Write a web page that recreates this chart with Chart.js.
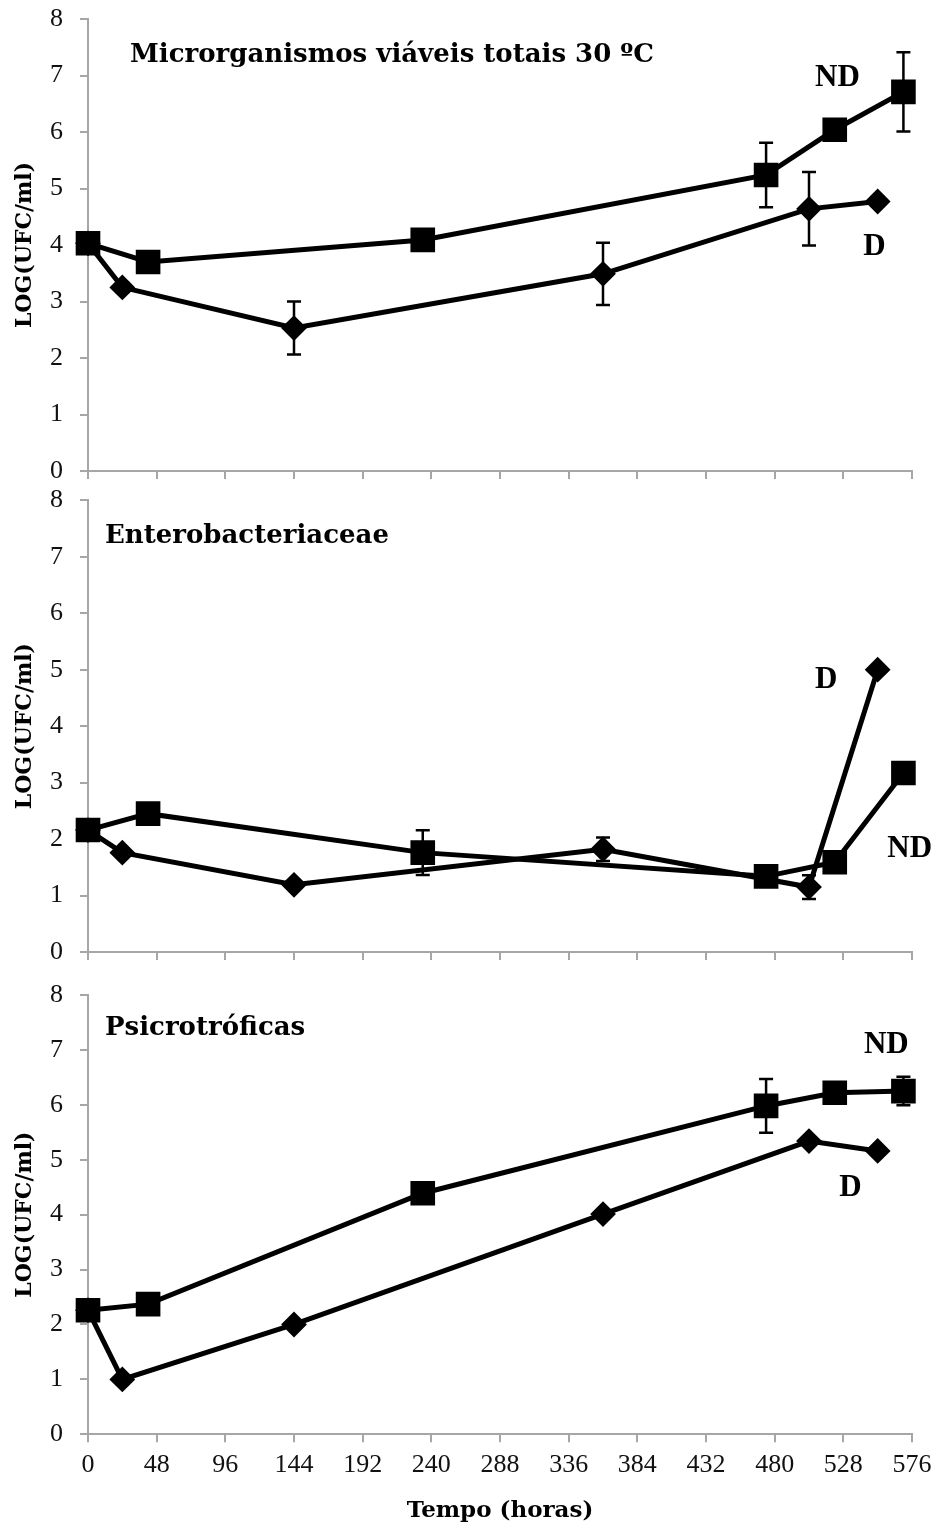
<!DOCTYPE html>
<html>
<head>
<meta charset="utf-8">
<script src="https://cdn.jsdelivr.net/npm/chart.js@4.4.1/dist/chart.umd.min.js"></script>
<style>
  html, body { margin: 0; padding: 0; background: #ffffff; }
  #wrap { position: relative; width: 938px; height: 1528px; overflow: hidden; background: #ffffff; }
  #wrap canvas { position: absolute; left: 0; }
</style>
</head>
<body>
<div id="wrap">
  <canvas id="pTotais" width="938" height="490" style="top:0px"></canvas>
  <canvas id="pEntero" width="938" height="490" style="top:480px"></canvas>
  <canvas id="pPsicro" width="938" height="553" style="top:975px"></canvas>
</div>
<script>
// Axis ticks
const timeTicks = [0, 48, 96, 144, 192, 240, 288, 336, 384, 432, 480, 528, 576];
const logTicks = [0, 1, 2, 3, 4, 5, 6, 7, 8];

// Sampling times (hours)
const hoursD  = [0, 24, 144, 360, 504, 552];
const hoursND = [0, 42, 234, 474, 522, 570];

// Microrganismos viáveis totais 30 ºC
const totaisD     = [4.03, 3.25, 2.53, 3.49, 4.64, 4.77];
const totaisDErr  = [0, 0.08, 0.47, 0.55, 0.65, 0.08];
const totaisND    = [4.03, 3.70, 4.09, 5.24, 6.04, 6.71];
const totaisNDErr = [0, 0, 0, 0.57, 0, 0.70];

// Enterobacteriaceae
const enteroD     = [2.16, 1.76, 1.19, 1.82, 1.15, 5.00];
const enteroDErr  = [0, 0, 0, 0.21, 0.21, 0];
const enteroND    = [2.16, 2.45, 1.76, 1.34, 1.59, 3.17];
const enteroNDErr = [0, 0, 0.395, 0, 0, 0];

// Psicrotróficas
const psicroD     = [2.26, 1.00, 2.00, 4.01, 5.34, 5.16];
const psicroDErr  = [0, 0, 0, 0, 0, 0];
const psicroND    = [2.26, 2.37, 4.39, 5.98, 6.22, 6.25];
const psicroNDErr = [0, 0, 0, 0.49, 0, 0.26];

const panelTitles = ['Microrganismos viáveis totais 30 ºC', 'Enterobacteriaceae', 'Psicrotróficas'];

const SERIF = "'DejaVu Serif', serif";
const NUM_SERIF = "'Liberation Serif', serif";
const AXIS_GREY = '#a6a6a6';
const TITLE_FONT = "bold 26px 'DejaVu Serif'";
const TAG_FONT = "bold 31px 'Liberation Serif'";

function points(xs, ys) {
  return xs.map((x, i) => ({ x: x, y: ys[i] }));
}

// Vertical error bars with caps, placed through the y scale
const errorBarPlugin = {
  id: 'errorBars',
  afterDatasetsDraw(chart) {
    const ctx = chart.ctx;
    const yScale = chart.scales.y;
    chart.data.datasets.forEach((ds, i) => {
      if (!ds.errors) return;
      const meta = chart.getDatasetMeta(i);
      ctx.save();
      ctx.strokeStyle = '#000000';
      ctx.lineWidth = 2.5;
      meta.data.forEach((pt, j) => {
        const e = ds.errors[j];
        if (!e) return;
        const v = ds.data[j].y;
        const top = yScale.getPixelForValue(v + e);
        const bot = yScale.getPixelForValue(v - e);
        ctx.beginPath();
        ctx.moveTo(pt.x, top); ctx.lineTo(pt.x, bot);
        ctx.moveTo(pt.x - 7, top); ctx.lineTo(pt.x + 7, top);
        ctx.moveTo(pt.x - 7, bot); ctx.lineTo(pt.x + 7, bot);
        ctx.stroke();
      });
      ctx.restore();
    });
  }
};

// Panel heading and series tags, anchored in data coordinates
function textPlugin(items) {
  return {
    id: 'panelText',
    afterDraw(chart) {
      const ctx = chart.ctx;
      const xs = chart.scales.x, ys = chart.scales.y;
      ctx.save();
      ctx.fillStyle = '#000000';
      ctx.textAlign = 'left';
      ctx.textBaseline = 'alphabetic';
      items.forEach(it => {
        ctx.font = it.font;
        ctx.fillText(it.text, xs.getPixelForValue(it.at[0]), ys.getPixelForValue(it.at[1]));
      });
      ctx.restore();
    }
  };
}

function seriesND(xs, ys, errs) {
  return {
    data: points(xs, ys), errors: errs,
    borderColor: '#000000', borderWidth: 5, tension: 0, clip: false,
    pointStyle: 'rect', pointRadius: 16, pointBorderWidth: 2,
    pointBackgroundColor: '#000000', pointBorderColor: '#000000'
  };
}
function seriesD(xs, ys, errs) {
  return {
    data: points(xs, ys), errors: errs,
    borderColor: '#000000', borderWidth: 5, tension: 0, clip: false,
    pointStyle: 'rectRot', pointRadius: 11.5, pointBorderWidth: 2,
    pointBackgroundColor: '#000000', pointBorderColor: '#000000'
  };
}

function panel(canvasId, datasets, items, geom) {
  return new Chart(document.getElementById(canvasId), {
    type: 'line',
    data: { datasets: datasets },
    options: {
      responsive: false,
      animation: false,
      devicePixelRatio: 1,
      layout: { padding: { top: geom.top, right: 26, left: 0, bottom: 0 } },
      plugins: { legend: { display: false }, tooltip: { enabled: false } },
      scales: {
        x: {
          type: 'linear', min: 0, max: 576,
          afterBuildTicks: s => { s.ticks = timeTicks.map(v => ({ value: v })); },
          afterFit: s => { s.height = geom.xh; s.paddingLeft = 0; s.paddingRight = 0; },
          grid: { drawOnChartArea: false, drawTicks: true, tickLength: 8, color: AXIS_GREY, lineWidth: 2 },
          border: { display: true, color: AXIS_GREY, width: 2 },
          ticks: {
            display: geom.labels, autoSkip: false, maxRotation: 0, padding: 7,
            color: '#111111', font: { family: NUM_SERIF, size: 26 }
          },
          title: {
            display: geom.labels, text: 'Tempo (horas)', color: '#000000',
            font: { family: SERIF, size: 23, weight: 'bold' }, padding: { top: 0, bottom: 3 }
          }
        },
        y: {
          type: 'linear', min: 0, max: 8,
          afterBuildTicks: s => { s.ticks = logTicks.map(v => ({ value: v })); },
          afterFit: s => { s.width = 88; s.paddingTop = 0; s.paddingBottom = 0; },
          grid: { drawOnChartArea: false, drawTicks: true, tickLength: 8, color: AXIS_GREY, lineWidth: 2 },
          border: { display: true, color: AXIS_GREY, width: 2 },
          ticks: { padding: 17, color: '#111111', font: { family: NUM_SERIF, size: 26 } },
          title: {
            display: true, text: 'LOG(UFC/ml)', color: '#000000',
            font: { family: SERIF, size: 22, weight: 'bold' }, padding: { top: 12, bottom: 0 }
          }
        }
      }
    },
    plugins: [errorBarPlugin, textPlugin(items)]
  });
}

panel('pTotais',
  [seriesND(hoursND, totaisND, totaisNDErr), seriesD(hoursD, totaisD, totaisDErr)],
  [
    { text: panelTitles[0], font: TITLE_FONT, at: [29.4, 7.24] },
    { text: 'ND', font: TAG_FONT, at: [508.2, 6.81] },
    { text: 'D', font: TAG_FONT, at: [541.9, 3.82] }
  ],
  { top: 19, xh: 19, labels: false });

panel('pEntero',
  [seriesND(hoursND, enteroND, enteroNDErr), seriesD(hoursD, enteroD, enteroDErr)],
  [
    { text: panelTitles[1], font: TITLE_FONT, at: [11.9, 7.24] },
    { text: 'D', font: TAG_FONT, at: [508.2, 4.67] },
    { text: 'ND', font: TAG_FONT, at: [558.7, 1.69] }
  ],
  { top: 20.3, xh: 15.7, labels: false });

panel('pPsicro',
  [seriesND(hoursND, psicroND, psicroNDErr), seriesD(hoursD, psicroD, psicroDErr)],
  [
    { text: panelTitles[2], font: TITLE_FONT, at: [11.9, 7.27] },
    { text: 'ND', font: TAG_FONT, at: [542.4, 6.95] },
    { text: 'D', font: TAG_FONT, at: [525.2, 4.34] }
  ],
  { top: 20, xh: 93.7, labels: true });
</script>
</body>
</html>
